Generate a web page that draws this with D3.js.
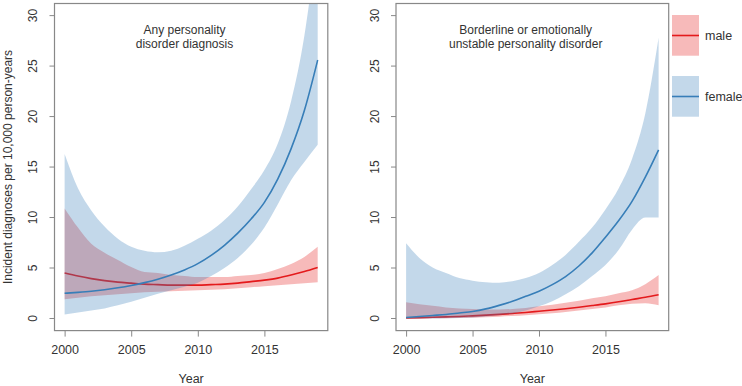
<!DOCTYPE html>
<html><head><meta charset="utf-8">
<script src="https://cdn.jsdelivr.net/npm/d3@7"></script>
<style>body{margin:0;background:#fff}svg{display:block}text{font-family:"Liberation Sans",Arial,sans-serif;fill:#333}</style>
</head><body><svg id="c" width="742" height="386"></svg>
<script>
const years = d3.range(2000, 2020);
const xTicks = [2000, 2005, 2010, 2015];
const yTicks = [0, 5, 10, 15, 20, 25, 30];
const titles = [["Any personality", "disorder diagnosis"], ["Borderline or emotionally", "unstable personality disorder"]];
const legendLabels = ["male", "female"];

// Panel 1: any personality disorder diagnosis
const anyFemale   = [2.5,2.59,2.7,2.85,3.04,3.27,3.55,3.89,4.31,4.81,5.43,6.25,7.25,8.45,9.85,11.5,13.8,16.8,20.6,25.6];
const anyFemaleLo = [0.4,0.6,0.8,1.0,1.3,1.65,2.05,2.45,2.8,3.15,3.55,4.2,5.0,6.0,7.3,9.0,11.3,13.7,15.5,17.2];
const anyFemaleHi = [16.3,12.9,10.7,9.1,7.9,7.1,6.7,6.55,6.7,7.2,7.9,8.7,9.75,11.1,12.8,14.7,17.3,21.5,28,38];
const anyMale     = [4.5,4.2,3.95,3.75,3.6,3.5,3.4,3.35,3.3,3.3,3.3,3.35,3.4,3.5,3.65,3.8,4.0,4.3,4.65,5.05];
const anyMaleLo   = [1.9,2.05,2.2,2.3,2.4,2.5,2.6,2.65,2.7,2.75,2.8,2.85,2.9,3.0,3.1,3.2,3.3,3.4,3.5,3.6];
const anyMaleHi   = [10.9,9.0,7.4,6.5,5.8,5.1,4.6,4.5,4.3,4.2,4.1,4.1,4.1,4.2,4.3,4.5,4.9,5.4,6.1,7.1];

// Panel 2: borderline or emotionally unstable personality disorder
const blFemale    = [0.1,0.2,0.3,0.4,0.55,0.7,0.95,1.3,1.7,2.2,2.7,3.35,4.15,5.2,6.5,8.05,9.7,11.6,14.0,16.7];
const blFemaleLo  = [0,0,0,0.02,0.05,0.1,0.2,0.35,0.5,0.8,1.2,1.7,2.4,3.2,4.2,5.3,6.8,8.8,10.0,10.0];
const blFemaleHi  = [7.45,6.0,5.05,4.5,4.0,3.75,3.6,3.55,3.7,4.0,4.5,5.3,6.3,7.6,9.0,10.8,12.9,15.8,20.3,27.8];
const blMale      = [0.05,0.08,0.12,0.16,0.2,0.26,0.33,0.41,0.5,0.6,0.72,0.84,0.97,1.12,1.28,1.45,1.65,1.88,2.1,2.35];
const blMaleLo    = [0,0.01,0.02,0.03,0.05,0.08,0.12,0.18,0.25,0.33,0.42,0.53,0.65,0.8,0.95,1.1,1.3,1.45,1.5,1.3];
const blMaleHi    = [1.6,1.4,1.25,1.1,1.0,0.95,0.9,0.9,0.95,1.05,1.2,1.35,1.55,1.75,2.0,2.2,2.5,2.8,3.4,4.3];

const red = "#E41A1C", blue = "#377EB8";
const panels = [
  {left: 54.5, right: 327.8, title: titles[0],
   male: anyMale, maleLo: anyMaleLo, maleHi: anyMaleHi,
   female: anyFemale, femaleLo: anyFemaleLo, femaleHi: anyFemaleHi},
  {left: 396, right: 668.7, title: titles[1],
   male: blMale, maleLo: blMaleLo, maleHi: blMaleHi,
   female: blFemale, femaleLo: blFemaleLo, femaleHi: blFemaleHi}
];
const plotTop = 3.5, plotBottom = 330.6;
const svg = d3.select("#c");
const frame = "#888";

panels.forEach((p, i) => {
  const x = d3.scaleLinear().domain([1999.24, 2019.76]).range([p.left, p.right]);
  const y = d3.scaleLinear().domain([-1.2, 31.2]).range([plotBottom, plotTop]);
  const g = svg.append("g");
  const cid = "clip" + i;
  g.append("clipPath").attr("id", cid).append("rect")
    .attr("x", p.left).attr("y", plotTop).attr("width", p.right - p.left).attr("height", plotBottom - plotTop);
  const pg = g.append("g").attr("clip-path", `url(#${cid})`);
  const area = (lo, hi) => d3.area().x((d, k) => x(years[k])).y0((d, k) => y(lo[k])).y1((d, k) => y(hi[k])).curve(d3.curveMonotoneX)(years);
  const line = v => d3.line().x((d, k) => x(years[k])).y((d, k) => y(v[k])).curve(d3.curveMonotoneX)(years);
  pg.append("path").attr("d", area(p.maleLo, p.maleHi)).attr("fill", red).attr("fill-opacity", 0.3);
  pg.append("path").attr("d", line(p.male)).attr("fill", "none").attr("stroke", red).attr("stroke-width", 1.6);
  pg.append("path").attr("d", area(p.femaleLo, p.femaleHi)).attr("fill", blue).attr("fill-opacity", 0.3);
  pg.append("path").attr("d", line(p.female)).attr("fill", "none").attr("stroke", blue).attr("stroke-width", 1.6);

  // frame
  g.append("rect").attr("x", p.left).attr("y", plotTop).attr("width", p.right - p.left).attr("height", plotBottom - plotTop)
    .attr("fill", "none").attr("stroke", frame).attr("stroke-width", 1.2);
  // y axis
  const ya = g.append("g").attr("transform", `translate(${p.left},0)`)
    .call(d3.axisLeft(y).tickValues(yTicks).tickSize(5).tickPadding(0).tickFormat(d3.format("d")));
  ya.select(".domain").remove();
  ya.selectAll(".tick").attr("transform", null);
  ya.selectAll(".tick line").attr("stroke", frame).attr("y1", d => y(d)).attr("y2", d => y(d));
  ya.selectAll(".tick text").attr("transform", d => `translate(${-21.5},${y(d)}) rotate(-90)`)
    .attr("x", 0).attr("y", 0).attr("dy", "0.35em").attr("text-anchor", "middle")
    .style("font-size", "12px").style("fill", "#333");
  // x axis
  const xa = g.append("g").attr("transform", `translate(0,${plotBottom})`)
    .call(d3.axisBottom(x).tickValues(xTicks).tickSize(6).tickPadding(9).tickFormat(d3.format("d")));
  xa.select(".domain").remove();
  xa.selectAll("line").attr("stroke", frame);
  xa.selectAll("text").style("font-size", "12.5px").style("fill", "#333").attr("font-family", "Liberation Sans, Arial, sans-serif");
  g.append("text").attr("x", (p.left + p.right) / 2).attr("y", 383).attr("text-anchor", "middle")
    .style("font-size", "12.5px").text("Year");
  // title
  p.title.forEach((t, k) => {
    g.append("text").attr("x", x(2009)).attr("y", 34 + k * 14).attr("text-anchor", "middle")
      .style("font-size", "12px").text(t);
  });
});

svg.append("text").attr("transform", `translate(12,167) rotate(-90)`).attr("text-anchor", "middle")
  .style("font-size", "12px").text("Incident diagnoses per 10,000 person-years");

// legend
const legColors = [red, blue];
legendLabels.forEach((lab, k) => {
  const y0 = 15 + k * 61;
  svg.append("rect").attr("x", 672).attr("y", y0).attr("width", 27).attr("height", 40.7)
    .attr("fill", legColors[k]).attr("fill-opacity", 0.3);
  svg.append("line").attr("x1", 672).attr("x2", 699).attr("y1", y0 + 20.5).attr("y2", y0 + 20.5)
    .attr("stroke", legColors[k]).attr("stroke-width", 1.6);
  svg.append("text").attr("x", 705).attr("y", y0 + 20.5).attr("dy", "0.35em")
    .style("font-size", "12.5px").text(lab);
});
</script></body></html>
